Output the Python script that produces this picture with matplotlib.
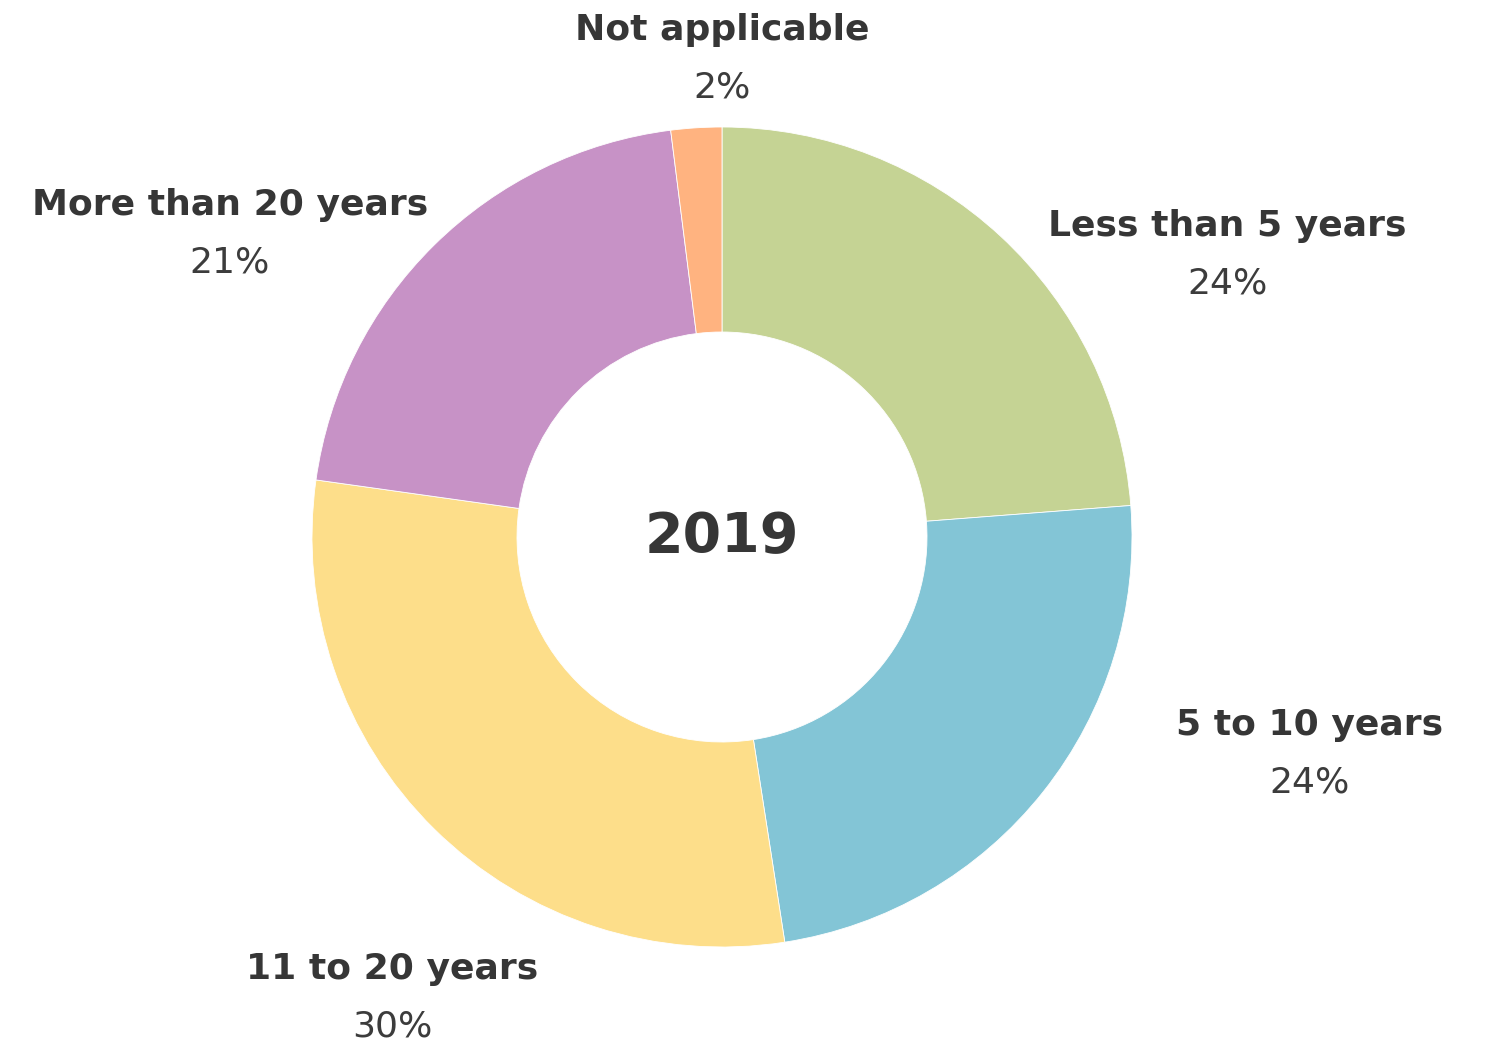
import matplotlib.pyplot as plt

# tenure share, clockwise from 12 o'clock
categories = ['Less than 5 years', '5 to 10 years', '11 to 20 years',
              'More than 20 years', 'Not applicable']
shares = [23.8, 23.8, 29.7, 20.8, 2.0]
colors = ['#C5D394', '#83C5D6', '#FDDE8A', '#C792C6', '#FFB380']
year = '2019'

# label anchor (x, y of the name line) in pie-radius units
label_pos = [(1.232, 0.759), (1.434, -0.459), (-0.805, -1.054),
             (-1.200, 0.810), (0.0, 1.237)]

text_color = '#363636'
plt.rcParams['font.family'] = ['DejaVu Sans']

fig = plt.figure(figsize=(14.87, 10.45), dpi=100)
ax = fig.add_axes([0, 0, 1, 1])

ax.pie(shares, colors=colors, startangle=90, counterclock=False,
       radius=1.0, wedgeprops=dict(width=0.5, edgecolor='white', linewidth=0.6))

for name, val, (x, y) in zip(categories, shares, label_pos):
    ax.text(x, y, name, ha='center', va='center', fontsize=26,
            fontweight='bold', color=text_color)
    ax.text(x, y - 0.140, f'{round(val)}%', ha='center', va='center',
            fontsize=26, fontweight='normal', color='#3c3c3c')

ax.text(0, 0, year, ha='center', va='center', fontsize=40,
        fontweight='bold', color=text_color)

ax.set_xlim(-722 / 410, (1487 - 722) / 410)
ax.set_ylim(-(1045 - 537) / 410, 537 / 410)
ax.set_aspect('equal')
ax.axis('off')

fig.savefig('out.png', dpi=100, facecolor='white')
